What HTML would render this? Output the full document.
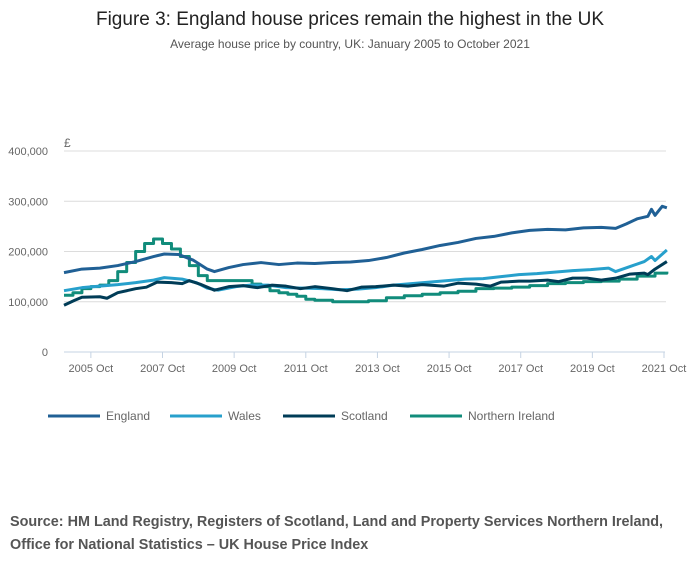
<!DOCTYPE html>
<html><head><meta charset="utf-8"><style>
body{margin:0;background:#fff;font-family:"Liberation Sans",sans-serif;}
#wrap{position:relative;width:700px;height:574px;overflow:hidden;}
</style></head><body>
<div id="wrap">
<svg id="chart" width="700" height="574">
<text x="350" y="25" text-anchor="middle" font-size="19" fill="#222">Figure 3: England house prices remain the highest in the UK</text>
<text x="350" y="48" text-anchor="middle" font-size="12" fill="#555">Average house price by country, UK: January 2005 to October 2021</text>
<text x="64" y="147" font-size="12" fill="#666">£</text>
<g id="grid"></g><g id="xaxis"></g><g id="series"></g><g id="legend"></g>
<text x="10" y="526" font-size="14.4" font-weight="bold" fill="#555">Source: HM Land Registry, Registers of Scotland, Land and Property Services Northern Ireland,</text>
<text x="10" y="549" font-size="14.4" font-weight="bold" fill="#555">Office for National Statistics – UK House Price Index</text>
</svg></div>
<script>
const yTicks=[0,100000,200000,300000,400000];
const yTickLabels=["0","100,000","200,000","300,000","400,000"];
const xTicks=[2005.75,2007.75,2009.75,2011.75,2013.75,2015.75,2017.75,2019.75,2021.75];
const xTickLabels=["2005 Oct","2007 Oct","2009 Oct","2011 Oct","2013 Oct","2015 Oct","2017 Oct","2019 Oct","2021 Oct"];
const englandT=[2005,2005.5,2006,2006.5,2007,2007.5,2007.8,2008.2,2008.6,2009,2009.2,2009.6,2010,2010.5,2011,2011.5,2012,2012.5,2013,2013.5,2014,2014.5,2015,2015.5,2016,2016.5,2017,2017.5,2018,2018.5,2019,2019.5,2020,2020.4,2020.7,2021,2021.3,2021.4,2021.5,2021.7,2021.83];
const englandV=[158,165,167,172,180,190,195,194,183,165,160,168,174,178,174,177,176,178,179,182,188,197,204,212,218,226,230,237,242,244,243,247,248,246,255,265,270,284,272,290,287];
const walesT=[2005,2005.5,2006,2006.5,2007,2007.5,2007.8,2008.3,2008.7,2009,2009.3,2009.8,2010.2,2010.7,2011.2,2011.7,2012.2,2012.7,2013.2,2013.7,2014.2,2014.7,2015.2,2015.7,2016.2,2016.7,2017.2,2017.7,2018.2,2018.7,2019.2,2019.7,2020.2,2020.4,2020.8,2021.2,2021.4,2021.5,2021.83];
const walesV=[122,128,131,134,138,143,148,145,138,127,123,130,133,133,128,127,126,124,125,128,133,136,139,142,145,146,150,154,156,159,162,164,167,160,170,180,190,182,203];
const scotlandT=[2005,2005.3,2005.5,2006,2006.2,2006.5,2007,2007.3,2007.6,2008,2008.3,2008.5,2008.8,2009.2,2009.6,2010,2010.4,2010.8,2011.2,2011.6,2012,2012.5,2012.9,2013.3,2013.7,2014.2,2014.6,2015,2015.6,2016,2016.5,2016.9,2017.2,2017.7,2018,2018.5,2018.8,2019.2,2019.6,2020,2020.4,2020.8,2021.2,2021.3,2021.5,2021.83];
const scotlandV=[93,103,109,110,107,118,126,129,139,138,136,142,135,123,130,132,128,133,131,126,130,126,122,129,130,133,131,134,131,137,135,131,139,141,141,143,140,147,147,143,147,155,157,154,165,180];
const niT=[2005,2005.25,2005.5,2005.75,2006,2006.25,2006.5,2006.75,2007,2007.25,2007.5,2007.75,2008,2008.25,2008.5,2008.75,2009,2009.5,2010,2010.25,2010.5,2010.75,2011,2011.25,2011.5,2011.75,2012,2012.5,2013,2013.5,2014,2014.5,2015,2015.5,2016,2016.5,2017,2017.5,2018,2018.5,2019,2019.5,2020,2020.5,2021,2021.5,2021.83];
const niV=[113,118,126,130,133,142,160,178,200,216,225,216,205,190,172,152,142,142,142,135,130,122,118,115,111,105,103,100,100,102,108,112,115,118,121,126,127,129,132,136,138,140,141,145,151,157,160];
const seriesNames=["England","Wales","Scotland","Northern Ireland"];
const colors=["#206095","#27a0cc","#003c57","#118c7b"];

const NS="http://www.w3.org/2000/svg";
const x0=64,x1=664,yBase=352,yTop=151;
function xs(t){return x0+(t-2005)/(2021.75-2005)*(x1-x0);}
function ys(v){return yBase-v/400000*(yBase-yTop);}
function mk(tag,attrs,parent){const e=document.createElementNS(NS,tag);for(const k in attrs)e.setAttribute(k,attrs[k]);parent.appendChild(e);return e;}
const grid=document.getElementById('grid');
yTicks.forEach((v,i)=>{
  if(i>0){const l=mk('line',{x1:x0,x2:x1+2,y1:ys(v),y2:ys(v),stroke:'#dcdcdc','stroke-width':1},grid);
  
  }
  const t=mk('text',{x:48,y:ys(v)+4,'text-anchor':'end','font-size':11,fill:'#666'},grid);
  t.textContent=yTickLabels[i];
  
  
});
const xa=document.getElementById('xaxis');
const ax=mk('line',{x1:x0,x2:x1+1,y1:yBase,y2:yBase,stroke:'#c5d3e3','stroke-width':1},xa);


xTicks.forEach((t,i)=>{
  const tk=mk('line',{x1:xs(t),x2:xs(t),y1:yBase,y2:yBase+6,stroke:'#c5d3e3'},xa);
  
  
  const tx=mk('text',{x:xs(t),y:372,'text-anchor':'middle','font-size':11,fill:'#666'},xa);
  tx.textContent=xTickLabels[i];
  
  
});
const sg=document.getElementById('series');
function linePath(T,V,step){let d='';for(let i=0;i<T.length;i++){const X=xs(T[i]),Y=ys(V[i]*1000);if(i===0)d+='M'+X+','+Y;else if(step)d+='H'+X+'V'+Y;else d+='L'+X+','+Y;}return d;}
const data=[[niT,niV,true],[walesT,walesV,false],[scotlandT,scotlandV,false],[englandT,englandV,false]];
const idx=[3,1,2,0];
const snames=['series-northern-ireland','series-wales','series-scotland','series-england'];
data.forEach((s,k)=>{
  const p=mk('path',{d:linePath(s[0],s[1],s[2]),fill:'none',stroke:colors[idx[k]],'stroke-width':3,'stroke-linejoin':'round'},sg);
  
  
});
const lg=document.getElementById('legend');
const lx=[48,170,283,410];
seriesNames.forEach((n,i)=>{
  const l=mk('line',{x1:lx[i],x2:lx[i]+52,y1:416,y2:416,stroke:colors[i],'stroke-width':3},lg);
  
  
  const t=mk('text',{x:lx[i]+58,y:420,'font-size':12,fill:'#666'},lg);
  t.textContent=n;
  
  
});
</script>
</body></html>
